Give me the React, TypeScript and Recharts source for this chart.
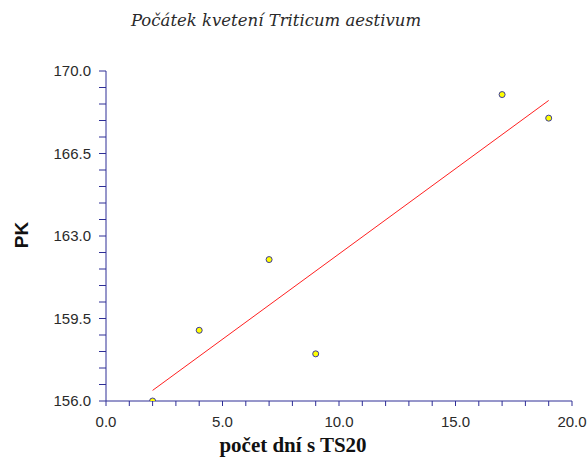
import React from "react";
import {
  ScatterChart,
  Scatter,
  XAxis,
  YAxis,
  Label,
} from "recharts";

// days with TS20 vs PK
const days = [2, 4, 7, 9, 17, 19];
const pk = [156.0, 159.0, 162.0, 158.0, 169.0, 168.0];

// fitted trend line end points
const trendDays = [2, 19];
const trendPk = [156.45, 168.75];

const xTicks = [0, 1, 2, 3, 4, 5, 6, 7, 8, 9, 10, 11, 12, 13, 14, 15, 16, 17, 18, 19, 20];
const xMajor = [0, 5, 10, 15, 20];
const yTicks = [
  156, 156.7, 157.4, 158.1, 158.8, 159.5, 160.2, 160.9, 161.6, 162.3, 163,
  163.7, 164.4, 165.1, 165.8, 166.5, 167.2, 167.9, 168.6, 169.3, 170,
];
const yMajor = [156, 159.5, 163, 166.5, 170];

const title = "Počátek kvetení Triticum aestivum";
const xTitle = "počet dní s TS20";
const yTitle = "PK";

const points = days.map((d, i) => ({ x: d, y: pk[i] }));
const trend = trendDays.map((d, i) => ({ x: d, y: trendPk[i] }));

const axisColor = "#2e2e96";
const tickFont = { fontFamily: "Liberation Sans, Arial, sans-serif", fontSize: 15, fill: "#2a2a2a" };

const isMajor = (list: number[], v: number) => list.some((m) => Math.abs(m - v) < 1e-6);

const Dot = (props: any) => {
  const { cx, cy } = props;
  if (cx == null || cy == null) return null;
  return <circle cx={cx} cy={cy} r={3} fill="#ffff00" stroke="#3c3c9c" strokeWidth={1} />;
};

export default function App() {
  return (
    <div style={{ position: "relative", width: 588, height: 457, background: "#fff" }}>
      <style>{`body{margin:0}`}</style>
      <ScatterChart
        width={588}
        height={457}
        margin={{ top: 71, right: 16, left: 0, bottom: 0 }}
      >
        <XAxis
          type="number"
          dataKey="x"
          domain={[0, 20]}
          ticks={xTicks}
          interval={0}
          height={56}
          allowDataOverflow
          stroke={axisColor}
          tickSize={5}
          tickMargin={10}
          tick={tickFont}
          tickLine={{ stroke: axisColor }}
          tickFormatter={(v: number) => (isMajor(xMajor, v) ? v.toFixed(1) : "")}
        >
          <Label
            content={() => (
              <text
                x={293}
                y={452}
                textAnchor="middle"
                style={{ fontFamily: "Liberation Serif, Times New Roman, serif", fontWeight: "bold", fontSize: 21, fill: "#111" }}
              >
                {xTitle}
              </text>
            )}
          />
        </XAxis>
        <YAxis
          type="number"
          dataKey="y"
          domain={[156, 170]}
          ticks={yTicks}
          interval={0}
          width={106}
          allowDataOverflow
          stroke={axisColor}
          tickSize={7}
          tickMargin={8}
          tick={tickFont}
          tickLine={{ stroke: axisColor }}
          tickFormatter={(v: number) => (isMajor(yMajor, v) ? v.toFixed(1) : "")}
        >
          <Label
            content={() => (
              <g>
                <text
                  x={21}
                  y={235}
                  textAnchor="middle"
                  dominantBaseline="central"
                  transform="rotate(-90, 21, 235)"
                  style={{ fontFamily: "Liberation Sans, Arial, sans-serif", fontWeight: "bold", fontSize: 19, fill: "#111" }}
                >
                  {yTitle}
                </text>
                <text
                  x={276}
                  y={26}
                  textAnchor="middle"
                  style={{ fontFamily: "DejaVu Serif, serif", fontStyle: "italic", fontSize: 16.5, fill: "#2a2a2a" }}
                >
                  {title}
                </text>
              </g>
            )}
          />
        </YAxis>
        <Scatter
          data={trend}
          line={{ stroke: "#ff2020", strokeWidth: 1 }}
          shape={() => null}
          isAnimationActive={false}
        />
        <Scatter data={points} shape={<Dot />} isAnimationActive={false} />
      </ScatterChart>
    </div>
  );
}
